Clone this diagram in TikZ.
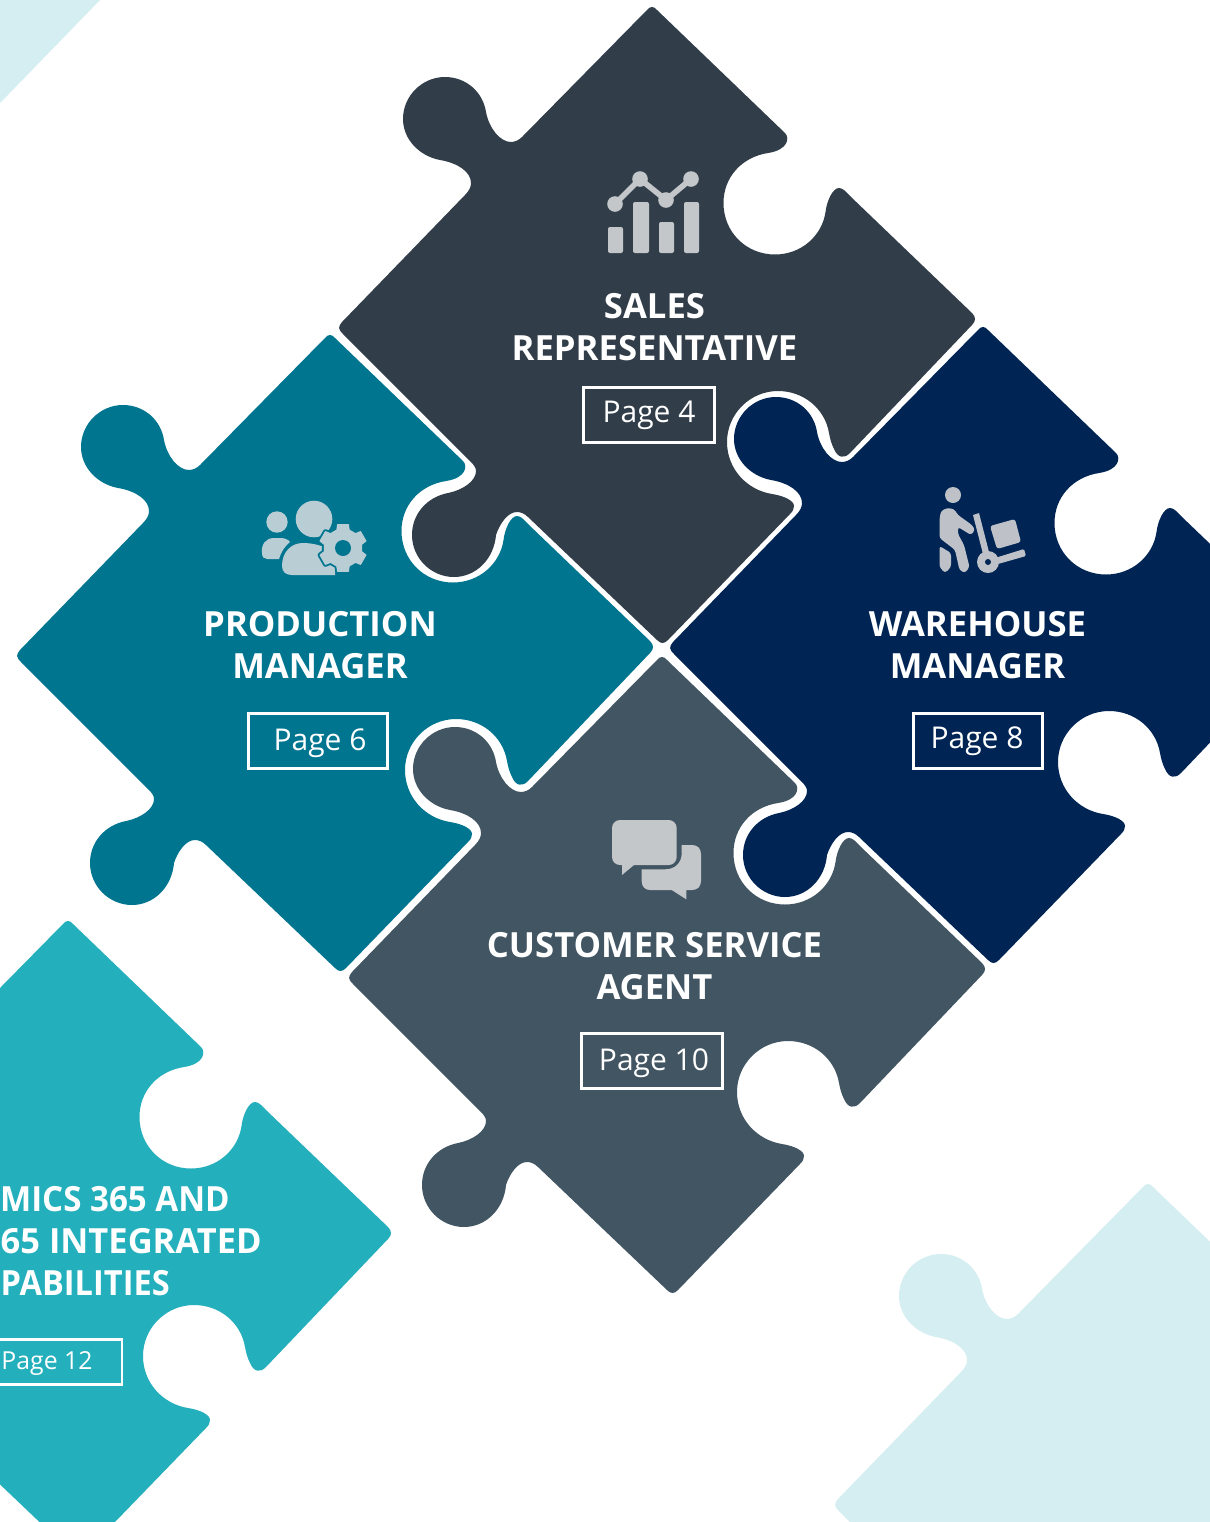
\documentclass[tikz,border=0pt]{standalone}
\usepackage{graphicx}
\usepackage{fontspec}
\setmainfont{Open Sans}
\definecolor{cSales}{HTML}{313D49}
\definecolor{cProd}{HTML}{00758F}
\definecolor{cWare}{HTML}{002554}
\definecolor{cServ}{HTML}{425563}
\definecolor{cCyan}{HTML}{24AFBC}
\definecolor{cLight}{HTML}{D4EEF2}
\definecolor{iconGrey}{HTML}{C4C7CA}
\definecolor{iconTeal}{HTML}{B9CDD5}
\definecolor{iconNavy}{HTML}{BEC2C8}
\def\puzzlepath{(647,10) .. controls (650,6) and (654,6) .. (657,10)
 -- (785,133) .. controls (790,138) and (788,150) .. (768,153)
 .. controls (742,157) and (723.5,177) .. (723.5,203)
 .. controls (723.5,232) and (746,254.5) .. (775,254.5)
 .. controls (801,254.5) and (822,236) .. (825.5,212)
 .. controls (827,200) and (833,188) .. (839,188)
 .. controls (843,188) and (846,192) .. (850,196)
 -- (972,313) .. controls (976,317) and (976,321) .. (972,325)
 -- (850,453) .. controls (844,459) and (838,458) .. (834,449)
 .. controls (831,443) and (830,438) .. (829,433)
 .. controls (825,409) and (804,391) .. (778,391)
 .. controls (750,391) and (727,414) .. (727,442)
 .. controls (727,469) and (747,490) .. (772,494)
 .. controls (785,496) and (794,501) .. (794,506)
 .. controls (794,509) and (793,511) .. (790,514)
 -- (668,640) .. controls (664,644) and (661,644) .. (657,640)
 -- (528,517) .. controls (524,513) and (520,512) .. (517,512)
 .. controls (508,512) and (500,523) .. (496,535)
 .. controls (494,559) and (476,577) .. (454,577)
 .. controls (431,577) and (412,558) .. (412,535)
 .. controls (412,514) and (427,497) .. (448,493)
 .. controls (463,490) and (476,481) .. (476,471)
 .. controls (476,468) and (474,465) .. (471,462)
 -- (343,334) .. controls (338,329) and (338,327) .. (342,322)
 -- (465,195) .. controls (469,191) and (471,187) .. (471,183)
 .. controls (471,172) and (458,163) .. (440,160)
 .. controls (419,156) and (403,139) .. (403,119)
 .. controls (403,96) and (422,77) .. (445,77)
 .. controls (466,77) and (483,92) .. (486,112)
 .. controls (489,128) and (500,142) .. (511,142)
 .. controls (515,142) and (519,140) .. (522,137)
 -- cycle}
\tikzset{
 title/.style={text=white,align=center,inner sep=0pt,font=\fontsize{26}{31.5}\selectfont\bfseries},
 pagebox/.style={draw=white,line width=1.8pt,inner sep=0pt,minimum height=41pt},
 pagetext/.style={inner sep=0pt,text=white,anchor=base,font=\fontsize{22.5}{26}\selectfont}
}
\begin{document}
\begin{tikzpicture}[x=0.75pt,y=-0.75pt]
\useasboundingbox (0,0) rectangle (1210,1522);
\clip (0,0) rectangle (1210,1522);
\fill[white] (0,0) rectangle (1210,1522);
\fill[cLight] (0,0) -- (100,0) -- (0,103) -- cycle;
\begin{scope}[shift={(496,1177)}]\fill[cLight] \puzzlepath;\end{scope}
\begin{scope}[shift={(-584,914)}]\fill[cCyan] \puzzlepath;\end{scope}
\begin{scope}[shift={(10,650)}]\fill[cServ] \puzzlepath;\end{scope}
\begin{scope}[shift={(-322,328)}]\fill[cProd] \puzzlepath;\end{scope}
\begin{scope}[shift={(331,320)}]\fill[cWare] \puzzlepath;\end{scope}
\fill[cSales] \puzzlepath;

% sales icon
\fill[iconGrey,rounded corners=1.5] (608,227) rectangle (623,253);
\fill[iconGrey,rounded corners=1.5] (633,202) rectangle (649,253);
\fill[iconGrey,rounded corners=1.5] (659,222) rectangle (674,253);
\fill[iconGrey,rounded corners=1.5] (684,202) rectangle (699,253);
\draw[iconGrey,line width=4.2pt] (615,204) -- (640,179) -- (666,200) -- (691,179);
\foreach \p in {(615,204),(640,179),(666,200),(691,179)} \fill[iconGrey] \p circle (7.8);

% production icon
\fill[iconTeal] (277,522) circle (10.7);
\fill[iconTeal] (262,553) .. controls (261,544) and (266,538) .. (274,538) -- (280,538)
  .. controls (284,538) and (288,539) .. (290,542) .. controls (285,546) and (281,552) .. (279,559)
  -- (267,559) .. controls (264,559) and (262,557) .. (262,553) -- cycle;
\fill[iconTeal] (314,519) circle (18.3);
\fill[iconTeal] (282,566) .. controls (282,552) and (291,543) .. (303,543)
  .. controls (312,543) and (322,545) .. (335,552) -- (335,575) -- (292,575)
  .. controls (286,575) and (282,572) .. (282,566) -- cycle;
\begin{scope}[shift={(343,548)}]
\draw[cProd,line width=3.6pt,fill=iconTeal,line join=round] (71:19) -- (77:24) -- (103:24) -- (109:19)
 -- (131:19) -- (137:24) -- (163:24) -- (169:19)
 -- (191:19) -- (197:24) -- (223:24) -- (229:19)
 -- (251:19) -- (257:24) -- (283:24) -- (289:19)
 -- (311:19) -- (317:24) -- (343:24) -- (349:19)
 -- (11:19) -- (17:24) -- (43:24) -- (49:19) -- cycle;
\fill[iconTeal,draw=iconTeal,line width=0.8pt,line join=round] (71:19) -- (77:24) -- (103:24) -- (109:19)
 -- (131:19) -- (137:24) -- (163:24) -- (169:19)
 -- (191:19) -- (197:24) -- (223:24) -- (229:19)
 -- (251:19) -- (257:24) -- (283:24) -- (289:19)
 -- (311:19) -- (317:24) -- (343:24) -- (349:19)
 -- (11:19) -- (17:24) -- (43:24) -- (49:19) -- cycle;
\fill[cProd] (0,0) circle (8);
\end{scope}

% warehouse icon
\fill[iconNavy] (953,495) circle (8);
\fill[iconNavy,rounded corners=2] (939.5,519) -- (941,511) -- (947,508) -- (954,509) -- (958,515) -- (972,525) -- (975,530) -- (971,535) -- (958,527)
  -- (958,534) -- (964,545) -- (969.5,567) -- (965,573) -- (959.5,570) -- (955,550) -- (950,546) -- (939.5,538) -- cycle;
\fill[iconNavy,rounded corners=2] (939.5,546) -- (951,553) -- (951,567) -- (945,573) -- (939.5,567) -- cycle;
\fill[iconNavy] (973,515) -- (979,513) -- (989,552) -- (983,554) -- cycle;
\fill[iconNavy,rounded corners=1] (995,558) -- (1024,549) -- (1026,556) -- (998,564) -- cycle;
\fill[iconNavy,rounded corners=2] (990,526) -- (1015,519) -- (1021,542) -- (997,549) -- cycle;
\fill[iconNavy] (988,562) circle (11);
\fill[cWare] (988,562) circle (3);

% service icon
\fill[iconGrey,rounded corners=6] (612,820) rectangle (676.7,865);
\fill[iconGrey] (622,860) -- (622,875) -- (640,860) -- cycle;
\fill[iconGrey] (681.7,845) -- (692,845) .. controls (697.5,845) and (701,848.5) .. (701,854)
  -- (701,881) .. controls (701,886.5) and (697.5,890) .. (692,890) -- (686.3,890) -- (686.3,899.3) -- (671.7,890) -- (650,890)
  .. controls (645,890) and (641.7,886.5) .. (641.7,881) -- (641.7,869.3) -- (665,869.3)
  .. controls (675,869.3) and (681.7,863) .. (681.7,853) -- cycle;

% titles
\node[title] (salesT) at (654.5,327) {SALES\\REPRESENTATIVE};
\node[title] (prodT) at (320,645) {PRODUCTION\\MANAGER};
\node[title] (wareT) at (977.5,645) {WAREHOUSE\\MANAGER};
\node[title] (servT) at (654.5,966) {CUSTOMER SERVICE\\AGENT};
\node[title,anchor=base east] (cyanA) at (230,1211) {\scalebox{0.955}[1]{MICS 365 AND}};
\node[title,anchor=base east] (cyanB) at (262,1253) {\scalebox{0.995}[1]{65 INTEGRATED}};
\node[title,anchor=base east] (cyanC) at (170,1295) {\scalebox{0.94}[1]{PABILITIES}};

% page boxes
\node[pagebox,minimum width=98pt] (p4) at (649,415) {};
\node[pagebox,minimum width=104pt] (p6) at (318,741) {};
\node[pagebox,minimum width=96.5pt] (p8) at (978,741) {};
\node[pagebox,minimum width=105.5pt] (p10) at (652,1061) {};
\node[draw=white,line width=1.8pt,minimum width=96pt,minimum height=34pt,inner sep=0pt] (p12) at (58,1362) {};
\node[pagetext] (p4t) at (649,422.5) {Page 4};
\node[pagetext] (p6t) at (320,750) {Page 6};
\node[pagetext] (p8t) at (977,748) {Page 8};
\node[pagetext] (p10t) at (654,1070) {Page 10};
\node[pagetext,font=\fontsize{18.6}{22}\selectfont] (p12t) at (47,1369) {Page 12};
\end{tikzpicture}
\end{document}
